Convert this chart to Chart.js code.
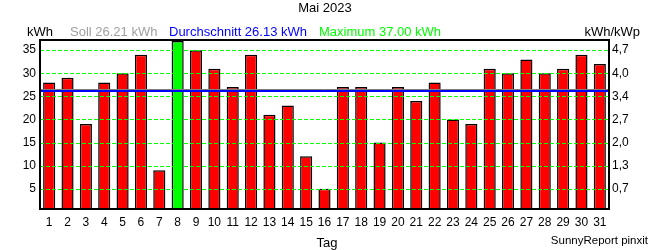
<!DOCTYPE html>
<html>
<head>
<meta charset="utf-8">
<script src="https://cdn.jsdelivr.net/npm/chart.js@4.4.1/dist/chart.umd.min.js"></script>
<style>
html,body{margin:0;padding:0;background:#fff;}
#wrap{width:650px;height:250px;}
</style>
</head>
<body>
<div id="wrap"><canvas id="c" width="650" height="250"></canvas></div>
<script>
const days = ['1','2','3','4','5','6','7','8','9','10','11','12','13','14','15','16','17','18','19','20','21','22','23','24','25','26','27','28','29','30','31'];
const energy = [28,29,19,28,30,34,9,37,35,31,27,34,21,23,12,5,27,27,15,27,24,28,20,19,31,30,33,30,31,34,32];
const leftTicks = [5,10,15,20,25,30,35];
const rightTickLabels = ['0,7','1,3','2,0','2,7','3,4','4,0','4,7'];
const sollValue = 26.21;
const avgValue = 26.13;
const maxValue = 37.00;
const titleText = 'Mai 2023';
const unitLeft = 'kWh';
const unitRight = 'kWh/kWp';
const xTitle = 'Tag';
const credit = 'SunnyReport pinxit';

const FONT = '"Liberation Sans", Arial, sans-serif';
const barColors = energy.map(v => v === maxValue ? '#00ff00' : '#ff0000');

const overlay = {
  id: 'overlay',
  afterDatasetsDraw(chart) {
    const {ctx, chartArea: a, scales} = chart;
    const y = scales.y;
    ctx.save();
    // dashed grid lines drawn over the bars
    ctx.strokeStyle = '#00ff00';
    ctx.lineWidth = 1;
    ctx.setLineDash([4, 2]);
    leftTicks.forEach(v => {
      const py = Math.round(y.getPixelForValue(v)) + 0.5;
      ctx.beginPath(); ctx.moveTo(a.left, py); ctx.lineTo(a.right, py); ctx.stroke();
    });
    ctx.setLineDash([]);
    // Soll line (gray) and average line (blue)
    const ys = Math.round(y.getPixelForValue(sollValue)) - 1.5;
    ctx.strokeStyle = '#808080';
    ctx.lineWidth = 1;
    ctx.beginPath(); ctx.moveTo(a.left, ys); ctx.lineTo(a.right, ys); ctx.stroke();
    const ya = y.getPixelForValue(avgValue);
    ctx.strokeStyle = '#0000ff';
    ctx.lineWidth = 2;
    ctx.beginPath(); ctx.moveTo(a.left, ya); ctx.lineTo(a.right, ya); ctx.stroke();
    // frame
    ctx.strokeStyle = '#000';
    ctx.lineWidth = 2;
    ctx.strokeRect(a.left, a.top, a.right - a.left, a.bottom - a.top);
    ctx.restore();
  },
  afterDraw(chart) {
    const {ctx} = chart;
    ctx.save();
    ctx.textBaseline = 'middle';
    ctx.font = '13px ' + FONT;
    ctx.fillStyle = '#000';
    ctx.textAlign = 'center';
    ctx.fillText(titleText, 325, 8);
    ctx.textAlign = 'left';
    ctx.fillText(unitLeft, 27, 32);
    ctx.fillStyle = '#a0a0a0';
    ctx.fillText('Soll ' + sollValue.toFixed(2) + ' kWh', 70, 32);
    ctx.fillStyle = '#0000ff';
    ctx.fillText('Durchschnitt ' + avgValue.toFixed(2) + ' kWh', 169, 32);
    ctx.fillStyle = '#00ff00';
    ctx.fillText('Maximum ' + maxValue.toFixed(2) + ' kWh', 319, 32);
    ctx.fillStyle = '#000';
    ctx.textAlign = 'right';
    ctx.fillText(unitRight, 640, 32);
    ctx.textAlign = 'center';
    ctx.fillText(xTitle, 327, 243);
    ctx.font = '11.5px ' + FONT;
    ctx.textAlign = 'right';
    ctx.fillText(credit, 648, 241);
    ctx.restore();
  }
};

new Chart(document.getElementById('c'), {
  type: 'bar',
  data: {
    labels: days,
    datasets: [{
      data: energy,
      backgroundColor: barColors,
      borderColor: '#000',
      borderWidth: 1.5,
      barPercentage: 0.66,
      categoryPercentage: 1.0
    }]
  },
  options: {
    responsive: false,
    animation: false,
    devicePixelRatio: 1,
    layout: {padding: {top: 40, left: 0, right: 0, bottom: 0}},
    plugins: {legend: {display: false}, tooltip: {enabled: false}, title: {display: false}},
    scales: {
      x: {
        grid: {display: false, drawTicks: false},
        border: {display: false},
        ticks: {color: '#000', font: {family: FONT, size: 12}, padding: 6, maxRotation: 0, autoSkip: false},
        afterFit(s) { s.height = 41; }
      },
      y: {
        position: 'left',
        min: 0.6, max: 37.2,
        afterBuildTicks(s) { s.ticks = leftTicks.map(v => ({value: v})); },
        grid: {display: false, drawTicks: false},
        border: {display: false},
        ticks: {color: '#000', font: {family: FONT, size: 12}, padding: 4},
        afterFit(s) { s.width = 40; }
      },
      y2: {
        position: 'right',
        min: 0.6, max: 37.2,
        afterBuildTicks(s) { s.ticks = leftTicks.map(v => ({value: v})); },
        grid: {display: false, drawTicks: false},
        border: {display: false},
        ticks: {color: '#000', font: {family: FONT, size: 12}, padding: 3,
          callback(v) { const i = leftTicks.indexOf(v); return i >= 0 ? rightTickLabels[i] : ''; }},
        afterFit(s) { s.width = 41; }
      }
    }
  },
  plugins: [overlay]
});
</script>
</body>
</html>
